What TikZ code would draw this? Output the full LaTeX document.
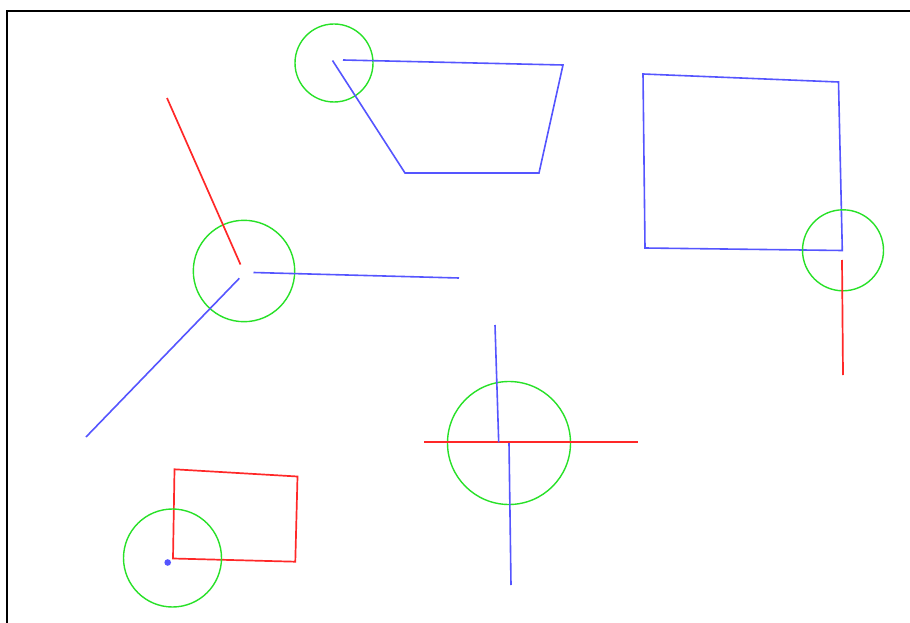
\documentclass[tikz,border=0pt]{standalone}
\definecolor{lblue}{RGB}{85,85,255}
\definecolor{lred}{RGB}{255,40,40}
\definecolor{lgreen}{RGB}{40,225,40}
\tikzset{
  bl/.style={draw=lblue, line width=1.6pt, line join=miter},
  rd/.style={draw=lred, line width=1.7pt},
  gc/.style={draw=lgreen, line width=1.4pt},
}
\begin{document}
\begin{tikzpicture}[x=1pt,y=-1pt]
\clip (0,0) rectangle (910,623);
\fill[white] (0,0) rectangle (910,623);
% frame
\draw[black, line width=2.2pt] (7,640) -- (7,11) -- (930,11);
% group 1
\draw[gc] (244,271) circle (50.7);
\draw[rd] (167,98) -- (240.5,264.5);
\draw[bl] (253.5,272.5) -- (459,278);
\draw[bl] (239.3,278.3) -- (86,437);
% group 2
\draw[gc] (334,63) circle (39);
\draw[bl] (343,60) -- (563,65) -- (539,173) -- (405,173) -- (332.5,60.5);
% group 3
\draw[bl] (643,74) -- (838.5,82) -- (842.3,250.5) -- (645,248) -- cycle;
\draw[gc] (843,250.3) circle (40.5);
\draw[rd] (842,260) -- (843,375);
% group 4
\draw[gc] (509,443) circle (61.5);
\draw[rd] (424,442.3) -- (638,442.3);
\draw[bl] (495,325) -- (498.7,442.3);
\draw[bl] (509,443) -- (511,585);
% group 5
\draw[rd] (174.5,469.3) -- (297.5,476.5) -- (295.3,561.7) -- (173,558.5) -- cycle;
\draw[gc] (172.5,558) circle (49);
\fill[lblue] (167.7,562.5) circle (3.3);
\end{tikzpicture}
\end{document}
